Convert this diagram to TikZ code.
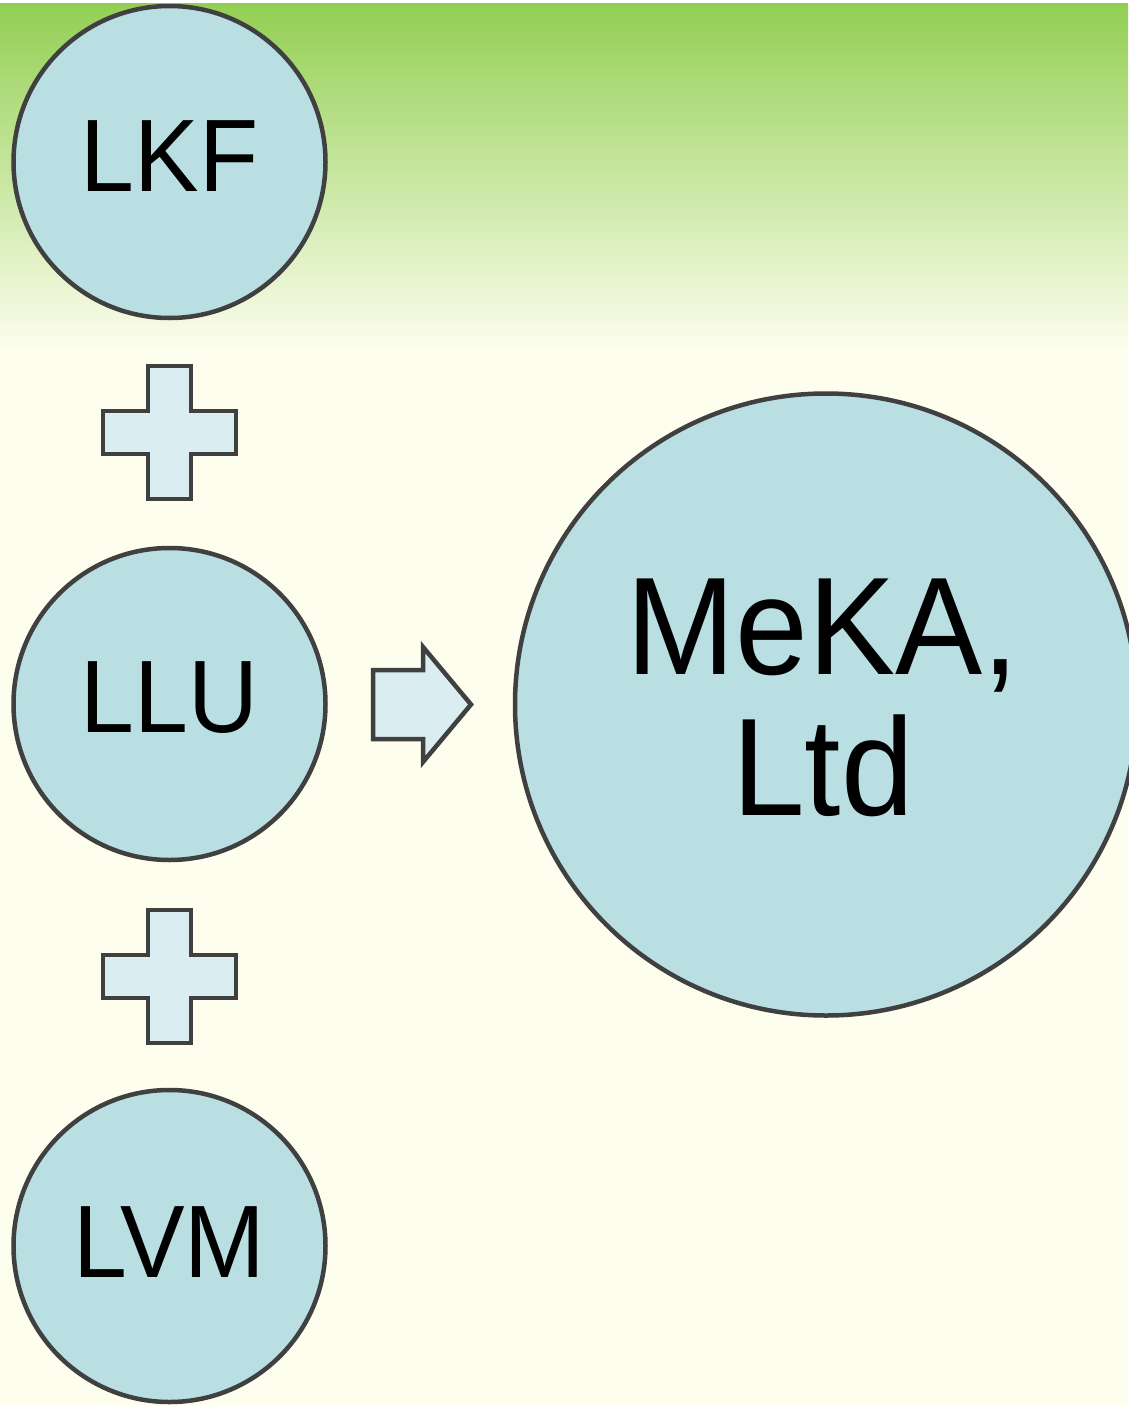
\documentclass[tikz,border=0pt]{standalone}
\usepackage{fontspec}
\setmainfont{Liberation Sans}[FakeStretch=0.94]
\definecolor{gtop}{RGB}{147,207,84}
\definecolor{cream}{RGB}{253,254,238}
\definecolor{bubfill}{RGB}{185,223,227}
\definecolor{plusfill}{RGB}{218,237,240}
\definecolor{edge}{RGB}{64,64,64}
\tikzset{
  bub/.style={circle, draw=edge, line width=4.5pt, fill=bubfill, inner sep=0pt, minimum size=#1},
  smalltxt/.style={font=\fontsize{103}{103}\selectfont, inner sep=0pt, text=black},
  bigtxt/.style={font=\fontsize{139}{141}\selectfont, inner sep=0pt, align=center, text=black},
  shapeline/.style={draw=edge, line width=4.5pt, fill=plusfill, line join=miter}
}
\begin{document}
\begin{tikzpicture}[x=1pt,y=-1pt]
\useasboundingbox (0,0) rectangle (1128,1405);
\fill[white] (0,0) rectangle (1128,4);
\fill[cream] (0,350) rectangle (1128,1405);
\shade[top color=gtop, bottom color=cream] (0,4) rectangle (1128,350.5);
% circles
\node[bub=312pt] (lkf) at (169.5,162) {};
\node[bub=312pt] (llu) at (169.5,704) {};
\node[bub=312pt] (lvm) at (169.5,1246) {};
\node[bub=622pt] (meka) at (826,704.5) {};
\node[smalltxt] (tlkf) at ([yshift=6pt]lkf.center) {LKF};
\node[smalltxt] (tllu) at ([yshift=6pt]llu.center) {LLU};
\node[smalltxt] (tlvm) at ([yshift=4pt]lvm.center) {LVM};
\node[bigtxt] (tmeka) at ([yshift=7pt,xshift=-3pt]meka.center) {MeKA,\\Ltd};
% plus signs
\coordinate (p1) at (169.5,432.5);
\coordinate (p2) at (169.5,976.5);
\foreach \p in {p1,p2}{
  \draw[shapeline] ([shift={(-21.5,-66.5)}]\p) -- ([shift={(21.5,-66.5)}]\p)
    -- ([shift={(21.5,-21.5)}]\p) -- ([shift={(66.5,-21.5)}]\p)
    -- ([shift={(66.5,21.5)}]\p) -- ([shift={(21.5,21.5)}]\p)
    -- ([shift={(21.5,66.5)}]\p) -- ([shift={(-21.5,66.5)}]\p)
    -- ([shift={(-21.5,21.5)}]\p) -- ([shift={(-66.5,21.5)}]\p)
    -- ([shift={(-66.5,-21.5)}]\p) -- ([shift={(-21.5,-21.5)}]\p) -- cycle;
}
% arrow
\draw[shapeline] (373,670) -- (423,670) -- (423,647) -- (471,704.5) -- (423,762)
  -- (423,739) -- (373,739) -- cycle;
\end{tikzpicture}
\end{document}
